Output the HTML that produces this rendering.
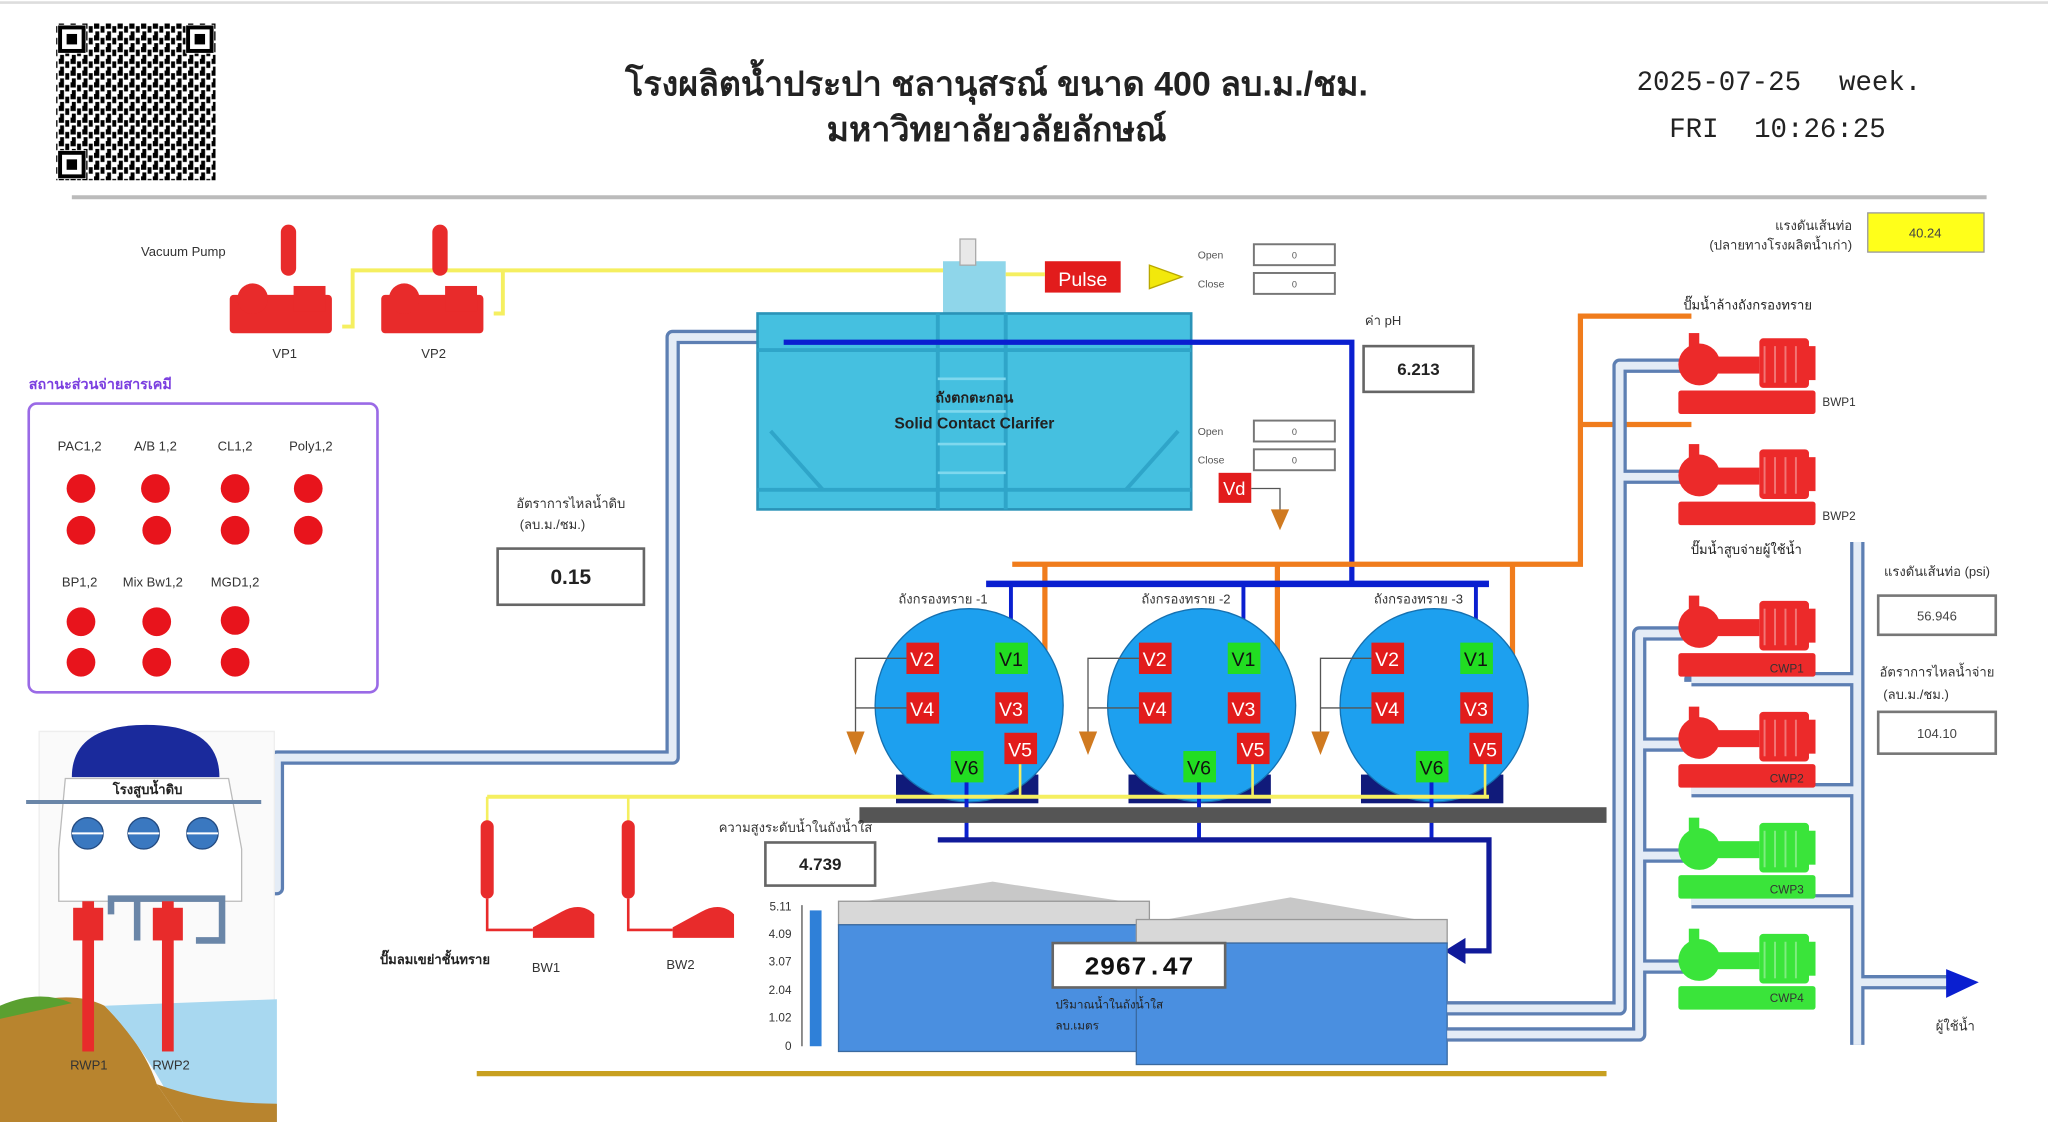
<!DOCTYPE html>
<html><head><meta charset="utf-8"><style>
html,body{margin:0;padding:0;background:#fff;}
svg{display:block}
text{font-family:"Liberation Sans","Noto Sans CJK SC",sans-serif;}
.m{font-family:"Liberation Mono",monospace;}
</style></head><body>
<svg width="2048" height="1122" viewBox="0 0 1568 859" preserveAspectRatio="none" xmlns="http://www.w3.org/2000/svg">
<defs>
<pattern id="qr" width="9" height="9" patternUnits="userSpaceOnUse">
<rect width="9" height="9" fill="#fff"/><rect x="0" y="0" width="4" height="4" fill="#000"/><rect x="5" y="2" width="3" height="5" fill="#000"/><rect x="1" y="6" width="3" height="3" fill="#000"/>
</pattern>
<symbol id="pump" viewBox="0 0 105 62" overflow="visible">
<rect x="0" y="44" width="105" height="18" rx="2"/>
<circle cx="16" cy="24" r="16"/>
<rect x="8" y="0" width="8" height="14"/>
<rect x="30" y="18" width="32" height="13"/>
<rect x="62" y="4" width="38" height="38" rx="3"/>
<rect x="98" y="10" width="7" height="26"/>
<g fill="none" stroke="#fff" stroke-opacity=".35" stroke-width="1.5"><line x1="66" y1="10" x2="66" y2="38"/><line x1="74" y1="10" x2="74" y2="38"/><line x1="82" y1="10" x2="82" y2="38"/><line x1="90" y1="10" x2="90" y2="38"/></g>
</symbol>
<symbol id="vp" viewBox="0 0 80 90" overflow="visible">
<rect x="40" y="0" width="12" height="40" rx="6"/>
<rect x="0" y="55" width="80" height="30" rx="3"/>
<circle cx="18" cy="58" r="12"/>
<rect x="50" y="48" width="25" height="20"/>
</symbol>
</defs>
<rect width="1568" height="859" fill="#fff"/>
<line x1="0" y1="2" x2="1568" y2="2" stroke="#ddd" stroke-width="2"/>
<!-- QR -->
<rect x="43" y="18" width="122" height="120" fill="url(#qr)"/>
<g fill="#fff"><rect x="44" y="19" width="22" height="22"/><rect x="142" y="19" width="22" height="22"/><rect x="44" y="115" width="22" height="22"/></g>
<g fill="none" stroke="#000" stroke-width="3"><rect x="46" y="21" width="18" height="18"/><rect x="144" y="21" width="18" height="18"/><rect x="46" y="117" width="18" height="18"/></g>
<g fill="#000"><rect x="51" y="26" width="8" height="8"/><rect x="149" y="26" width="8" height="8"/><rect x="51" y="122" width="8" height="8"/></g>
<!-- Title -->
<text x="763" y="73" text-anchor="middle" font-size="26" font-weight="bold" fill="#222">โรงผลิตน้ำประปา ชลานุสรณ์ ขนาด 400 ลบ.ม./ชม.</text>
<text x="763" y="108" text-anchor="middle" font-size="26" font-weight="bold" fill="#222">มหาวิทยาลัยวลัยลักษณ์</text>
<text x="1253" y="69" class="m" font-size="21" fill="#222">2025-07-25</text>
<text x="1408" y="69" class="m" font-size="21" fill="#222">week.</text>
<text x="1278" y="105" class="m" font-size="21" fill="#222">FRI</text>
<text x="1343" y="105" class="m" font-size="21" fill="#222">10:26:25</text>
<line x1="55" y1="151" x2="1521" y2="151" stroke="#bbb" stroke-width="3"/>

<!-- Vacuum pumps -->
<text x="108" y="196" font-size="10" fill="#333">Vacuum Pump</text>
<polyline points="262,250 270,250 270,207 722,207" fill="none" stroke="#f5ef60" stroke-width="3"/>
<polyline points="378,240 385,240 385,207" fill="none" stroke="#f5ef60" stroke-width="3"/>
<use href="#vp" x="175" y="172" width="80" height="88" fill="#e82b2b"/>
<use href="#vp" x="291" y="172" width="80" height="88" fill="#e82b2b"/>
<text x="218" y="274" text-anchor="middle" font-size="10" fill="#333">VP1</text>
<text x="332" y="274" text-anchor="middle" font-size="10" fill="#333">VP2</text>

<!-- Left raw water pipe -->
<g fill="none" stroke-linejoin="round">
<polyline points="580,258 515,258 515,580 212,580 212,680 170,680" stroke="#5d7fb3" stroke-width="11"/>
<polyline points="580,258 515,258 515,580 212,580 212,680 170,680" stroke="#e4ecf6" stroke-width="6"/>
</g>

<!-- Clarifier -->
<rect x="722" y="200" width="48" height="42" fill="#8fd6ea"/>
<rect x="735" y="183" width="12" height="20" fill="#e8e8e8" stroke="#aaa"/>
<rect x="580" y="240" width="332" height="150" fill="#45c0e0" stroke="#2a93b8" stroke-width="2"/>
<g stroke="#2fa5c9" stroke-width="3" fill="none">
<line x1="580" y1="268" x2="912" y2="268"/><line x1="580" y1="375" x2="912" y2="375"/>
<line x1="718" y1="240" x2="718" y2="390"/><line x1="770" y1="240" x2="770" y2="390"/>
<line x1="590" y1="330" x2="630" y2="375"/><line x1="902" y1="330" x2="862" y2="375"/>
</g>
<g stroke="#7fd8ee" stroke-width="2"><line x1="718" y1="290" x2="770" y2="290"/><line x1="718" y1="315" x2="770" y2="315"/><line x1="718" y1="340" x2="770" y2="340"/><line x1="718" y1="362" x2="770" y2="362"/></g>
<text x="746" y="308" text-anchor="middle" font-size="11" font-weight="bold" fill="#222">ถังตกตะกอน</text>
<text x="746" y="328" text-anchor="middle" font-size="12" font-weight="bold" fill="#222">Solid Contact Clarifer</text>
<polyline points="600,262 1035,262 1035,447" fill="none" stroke="#0a1fd0" stroke-width="4"/>
<rect x="800" y="200" width="58" height="24" fill="#e21c1c"/>
<text x="829" y="219" text-anchor="middle" font-size="15" fill="#fff">Pulse</text>
<line x1="770" y1="210" x2="800" y2="210" stroke="#f5ef60" stroke-width="3"/>
<polygon points="880,203 905,212 880,221" fill="#f2e80c" stroke="#b9a800"/>
<g font-size="8" fill="#555"><text x="917" y="198">Open</text><text x="917" y="220">Close</text><text x="917" y="333">Open</text><text x="917" y="355">Close</text></g>
<g fill="#fff" stroke="#777" stroke-width="1.5"><rect x="960" y="187" width="62" height="16"/><rect x="960" y="209" width="62" height="16"/><rect x="960" y="322" width="62" height="16"/><rect x="960" y="344" width="62" height="16"/></g>
<g font-size="7" fill="#555" text-anchor="middle"><text x="991" y="198">0</text><text x="991" y="220">0</text><text x="991" y="333">0</text><text x="991" y="355">0</text></g>
<text x="1045" y="249" font-size="10" fill="#333">ค่า pH</text>
<rect x="1044" y="265" width="84" height="35" fill="#fff" stroke="#666" stroke-width="2"/>
<text x="1086" y="287" text-anchor="middle" font-size="13" font-weight="bold" fill="#222">6.213</text>
<rect x="933" y="362" width="25" height="23" fill="#e21c1c"/>
<text x="945" y="379" text-anchor="middle" font-size="14" fill="#fff">Vd</text>
<polyline points="958,374 980,374 980,392" fill="none" stroke="#555"/>
<polygon points="973,390 987,390 980,406" fill="#d07a20"/>

<!-- Orange line -->
<g fill="none" stroke="#f07c1c" stroke-width="4">
<polyline points="775,432 1210,432 1210,242 1295,242"/>
<line x1="1210" y1="325" x2="1295" y2="325"/>
<line x1="800" y1="432" x2="800" y2="540"/><line x1="978" y1="432" x2="978" y2="540"/><line x1="1158" y1="432" x2="1158" y2="540"/>
</g>
<line x1="755" y1="447" x2="1140" y2="447" stroke="#0a1fd0" stroke-width="5"/>
<g stroke="#0a1fd0" stroke-width="3"><line x1="774" y1="447" x2="774" y2="494"/><line x1="952" y1="447" x2="952" y2="494"/><line x1="1130" y1="447" x2="1130" y2="494"/></g>

<!-- Chem box -->
<text x="22" y="298" font-size="11" font-weight="bold" fill="#7b3fe0">สถานะส่วนจ่ายสารเคมี</text>
<rect x="22" y="309" width="267" height="221" rx="6" fill="#fff" stroke="#9a6ae6" stroke-width="2"/>
<g font-size="10" fill="#333" text-anchor="middle"><text x="61" y="345">PAC1,2</text><text x="119" y="345">A/B 1,2</text><text x="180" y="345">CL1,2</text><text x="238" y="345">Poly1,2</text>
<text x="61" y="449">BP1,2</text><text x="117" y="449">Mix Bw1,2</text><text x="180" y="449">MGD1,2</text></g>
<g fill="#e8141c"><circle cx="62" cy="374" r="11"/><circle cx="119" cy="374" r="11"/><circle cx="180" cy="374" r="11"/><circle cx="236" cy="374" r="11"/>
<circle cx="62" cy="406" r="11"/><circle cx="120" cy="406" r="11"/><circle cx="180" cy="406" r="11"/><circle cx="236" cy="406" r="11"/>
<circle cx="62" cy="476" r="11"/><circle cx="120" cy="476" r="11"/><circle cx="180" cy="475" r="11"/>
<circle cx="62" cy="507" r="11"/><circle cx="120" cy="507" r="11"/><circle cx="180" cy="507" r="11"/></g>

<!-- Flow -->
<text x="437" y="389" text-anchor="middle" font-size="10" fill="#333">อัตราการไหลน้ำดิบ</text>
<text x="423" y="405" text-anchor="middle" font-size="10" fill="#333">(ลบ.ม./ชม.)</text>
<rect x="381" y="420" width="112" height="43" fill="#fff" stroke="#666" stroke-width="2"/>
<text x="437" y="447" text-anchor="middle" font-size="16" font-weight="bold" fill="#222">0.15</text>

<!-- Pumping station -->
<path d="M30,560 L210,560 L210,855 L30,855 Z" fill="#fafafa" stroke="#eee"/>
<path d="M55,595 Q55,555 112,555 Q168,555 168,595 Z" fill="#1a2a9c"/>
<path d="M50,596 L175,596 L185,650 L185,690 L45,690 L45,650 Z" fill="#fff" stroke="#bbb"/>
<text x="113" y="608" text-anchor="middle" font-size="10" font-weight="bold" fill="#222">โรงสูบน้ำดิบ</text>
<line x1="20" y1="614" x2="200" y2="614" stroke="#6a86a8" stroke-width="3"/>
<g fill="#3a78c0" stroke="#234a80"><circle cx="67" cy="638" r="12"/><circle cx="110" cy="638" r="12"/><circle cx="155" cy="638" r="12"/></g>
<g stroke="#fff" stroke-width="1.5"><line x1="55" y1="638" x2="79" y2="638"/><line x1="98" y1="638" x2="122" y2="638"/><line x1="143" y1="638" x2="167" y2="638"/></g>
<path d="M0,775 Q50,755 80,770 Q110,800 120,830 L140,859 L0,859 Z" fill="#b8842e"/>
<path d="M80,770 L212,765 L212,859 L140,859 Q110,800 80,770 Z" fill="#a8d8f0"/>
<path d="M120,830 Q160,845 212,845 L212,859 L140,859 Z" fill="#b8842e"/>
<path d="M0,770 Q30,757 55,768 L0,780 Z" fill="#5aa030"/>
<g fill="none" stroke="#6a86a8" stroke-width="5"><polyline points="85,700 85,688 170,688 170,720 150,720"/><line x1="105" y1="688" x2="105" y2="720"/></g>
<g fill="#e82b2b"><rect x="63" y="690" width="9" height="115"/><rect x="124" y="690" width="9" height="115"/><rect x="56" y="695" width="23" height="25"/><rect x="117" y="695" width="23" height="25"/></g>
<text x="68" y="819" text-anchor="middle" font-size="10" fill="#333">RWP1</text>
<text x="131" y="819" text-anchor="middle" font-size="10" fill="#333">RWP2</text>

<!-- Filters -->
<g font-size="10" fill="#333" text-anchor="middle"><text x="722" y="462">ถังกรองทราย -1</text><text x="908" y="462">ถังกรองทราย -2</text><text x="1086" y="462">ถังกรองทราย -3</text></g>
<g id="f1">
<rect x="686" y="593" width="109" height="22" fill="#101a7a"/>
<ellipse cx="742" cy="540" rx="72" ry="74" fill="#1da0ef" stroke="#1570b0"/>
<polyline points="694,504 655,504 655,562" fill="none" stroke="#555"/><line x1="655" y1="542" x2="694" y2="542" stroke="#555"/>
<polygon points="648,560 662,560 655,578" fill="#d07a20"/>
<line x1="781" y1="585" x2="781" y2="610" stroke="#f5ef60" stroke-width="2"/>
<line x1="740" y1="598" x2="740" y2="643" stroke="#0a1fd0" stroke-width="3"/>
<g font-size="15"><rect x="694" y="492" width="25" height="24" fill="#e21c1c"/><text x="706" y="510" text-anchor="middle" fill="#fff">V2</text>
<rect x="762" y="492" width="25" height="24" fill="#22dd22"/><text x="774" y="510" text-anchor="middle" fill="#111">V1</text>
<rect x="694" y="530" width="25" height="24" fill="#e21c1c"/><text x="706" y="548" text-anchor="middle" fill="#fff">V4</text>
<rect x="762" y="530" width="25" height="24" fill="#e21c1c"/><text x="774" y="548" text-anchor="middle" fill="#fff">V3</text>
<rect x="769" y="561" width="25" height="24" fill="#e21c1c"/><text x="781" y="579" text-anchor="middle" fill="#fff">V5</text>
<rect x="728" y="575" width="25" height="24" fill="#22dd22"/><text x="740" y="593" text-anchor="middle" fill="#111">V6</text></g>
</g>
<use href="#f1" x="178" y="0"/>
<use href="#f1" x="356" y="0"/>
<line x1="373" y1="610" x2="1140" y2="610" stroke="#f5ef60" stroke-width="3"/>
<rect x="658" y="618" width="572" height="12" fill="#555"/>
<polyline points="718,643 1140,643 1140,728 1120,728" fill="none" stroke="#101a9a" stroke-width="4"/>
<polygon points="1122,718 1106,728 1122,738" fill="#101a9a"/>

<!-- BW blowers -->
<g stroke="#f5ef60" stroke-width="2"><line x1="373" y1="610" x2="373" y2="630"/><line x1="481" y1="610" x2="481" y2="630"/></g>
<g fill="#e82b2b"><rect x="368" y="628" width="10" height="60" rx="5"/><rect x="476" y="628" width="10" height="60" rx="5"/>
<path d="M408,718 L455,718 L455,700 Q445,690 430,698 L408,710 Z"/><path d="M515,718 L562,718 L562,700 Q552,690 537,698 L515,710 Z"/></g>
<g fill="none" stroke="#e82b2b" stroke-width="2"><polyline points="373,688 373,712 408,712"/><polyline points="481,688 481,712 515,712"/></g>
<text x="333" y="738" text-anchor="middle" font-size="10" font-weight="bold" fill="#222">ปั๊มลมเขย่าชั้นทราย</text>
<text x="418" y="744" text-anchor="middle" font-size="10" fill="#333">BW1</text>
<text x="521" y="742" text-anchor="middle" font-size="10" fill="#333">BW2</text>

<!-- Level -->
<text x="609" y="637" text-anchor="middle" font-size="10" fill="#333">ความสูงระดับน้ำในถังน้ำใส</text>
<rect x="586" y="645" width="84" height="33" fill="#fff" stroke="#666" stroke-width="2"/>
<text x="628" y="666" text-anchor="middle" font-size="13" font-weight="bold" fill="#222">4.739</text>
<g font-size="9" fill="#333" text-anchor="end"><text x="606" y="697">5.11</text><text x="606" y="718">4.09</text><text x="606" y="739">3.07</text><text x="606" y="761">2.04</text><text x="606" y="782">1.02</text><text x="606" y="804">0</text></g>
<line x1="614" y1="693" x2="614" y2="801" stroke="#555"/>
<rect x="620" y="697" width="9" height="104" fill="#2f80d8"/>

<!-- Tanks -->
<polygon points="642,693 760,675 880,693" fill="#c8c8c8"/>
<rect x="642" y="690" width="238" height="18" fill="#d8d8d8" stroke="#999"/>
<rect x="642" y="708" width="238" height="97" fill="#4a8fe0" stroke="#3a6aa0"/>
<polygon points="870,708 988,687 1108,708" fill="#c8c8c8"/>
<rect x="870" y="704" width="238" height="18" fill="#d8d8d8" stroke="#999"/>
<rect x="870" y="722" width="238" height="93" fill="#4a8fe0" stroke="#3a6aa0"/>
<rect x="806" y="722" width="132" height="34" fill="#fff" stroke="#666" stroke-width="2"/>
<text x="872" y="746" text-anchor="middle" class="m" font-size="20" font-weight="bold" fill="#111">2967.47</text>
<text x="808" y="772" font-size="9" fill="#222">ปริมาณน้ำในถังน้ำใส</text>
<text x="808" y="788" font-size="9" fill="#222">ลบ.เมตร</text>
<line x1="365" y1="822" x2="1230" y2="822" stroke="#c8a020" stroke-width="4"/>

<!-- Right pipes -->
<g fill="none" stroke-linejoin="round">
<g stroke="#5d7fb3" stroke-width="11">
<polyline points="1108,772 1240,772 1240,280 1290,280"/><line x1="1240" y1="365" x2="1290" y2="365"/>
<polyline points="1108,792 1255,792 1255,485 1290,485"/><line x1="1255" y1="570" x2="1290" y2="570"/><line x1="1255" y1="655" x2="1290" y2="655"/><line x1="1255" y1="740" x2="1290" y2="740"/>
<line x1="1422" y1="415" x2="1422" y2="800"/>
<polyline points="1295,522 1295,520 1422,520"/><polyline points="1295,605 1422,605"/><polyline points="1295,690 1422,690"/>
<line x1="1422" y1="752" x2="1495" y2="752"/>
</g>
<g stroke="#e4ecf6" stroke-width="6">
<polyline points="1108,772 1240,772 1240,280 1290,280"/><line x1="1240" y1="365" x2="1290" y2="365"/>
<polyline points="1108,792 1255,792 1255,485 1290,485"/><line x1="1255" y1="570" x2="1290" y2="570"/><line x1="1255" y1="655" x2="1290" y2="655"/><line x1="1255" y1="740" x2="1290" y2="740"/>
<line x1="1422" y1="415" x2="1422" y2="800"/>
<polyline points="1295,520 1422,520"/><polyline points="1295,605 1422,605"/><polyline points="1295,690 1422,690"/>
<line x1="1422" y1="752" x2="1495" y2="752"/>
</g></g>
<polygon points="1490,742 1515,752 1490,764" fill="#0a1fd0"/>
<text x="1497" y="789" text-anchor="middle" font-size="10" fill="#333">ผู้ใช้น้ำ</text>

<text x="1418" y="176" text-anchor="end" font-size="10" fill="#333">แรงดันเส้นท่อ</text>
<text x="1418" y="191" text-anchor="end" font-size="10" fill="#333">(ปลายทางโรงผลิตน้ำเก่า)</text>
<rect x="1430" y="163" width="89" height="30" fill="#ffff1a" stroke="#999"/>
<text x="1474" y="182" text-anchor="middle" font-size="10" fill="#444">40.24</text>
<text x="1338" y="237" text-anchor="middle" font-size="10" fill="#222">ปั๊มน้ำล้างถังกรองทราย</text>
<use href="#pump" x="1285" y="255" width="105" height="62" fill="#ec2a2a"/>
<use href="#pump" x="1285" y="340" width="105" height="62" fill="#ec2a2a"/>
<text x="1408" y="311" text-anchor="middle" font-size="9" fill="#333">BWP1</text>
<text x="1408" y="398" text-anchor="middle" font-size="9" fill="#333">BWP2</text>
<text x="1337" y="424" text-anchor="middle" font-size="10" fill="#222">ปั๊มน้ำสูบจ่ายผู้ใช้น้ำ</text>
<use href="#pump" x="1285" y="456" width="105" height="62" fill="#ec2a2a"/>
<use href="#pump" x="1285" y="541" width="105" height="62" fill="#ec2a2a"/>
<use href="#pump" x="1285" y="626" width="105" height="62" fill="#3ae43a"/>
<use href="#pump" x="1285" y="711" width="105" height="62" fill="#3ae43a"/>
<g font-size="9" fill="#333" text-anchor="middle"><text x="1368" y="515">CWP1</text><text x="1368" y="599">CWP2</text><text x="1368" y="684">CWP3</text><text x="1368" y="767">CWP4</text></g>
<text x="1483" y="441" text-anchor="middle" font-size="10" fill="#333">แรงดันเส้นท่อ (psi)</text>
<rect x="1438" y="456" width="90" height="30" fill="#fff" stroke="#777" stroke-width="2"/>
<text x="1483" y="475" text-anchor="middle" font-size="10" fill="#444">56.946</text>
<text x="1483" y="518" text-anchor="middle" font-size="10" fill="#333">อัตราการไหลน้ำจ่าย</text>
<text x="1467" y="535" text-anchor="middle" font-size="10" fill="#333">(ลบ.ม./ชม.)</text>
<rect x="1438" y="545" width="90" height="32" fill="#fff" stroke="#777" stroke-width="2"/>
<text x="1483" y="565" text-anchor="middle" font-size="10" fill="#444">104.10</text>
</svg>
</body></html>
